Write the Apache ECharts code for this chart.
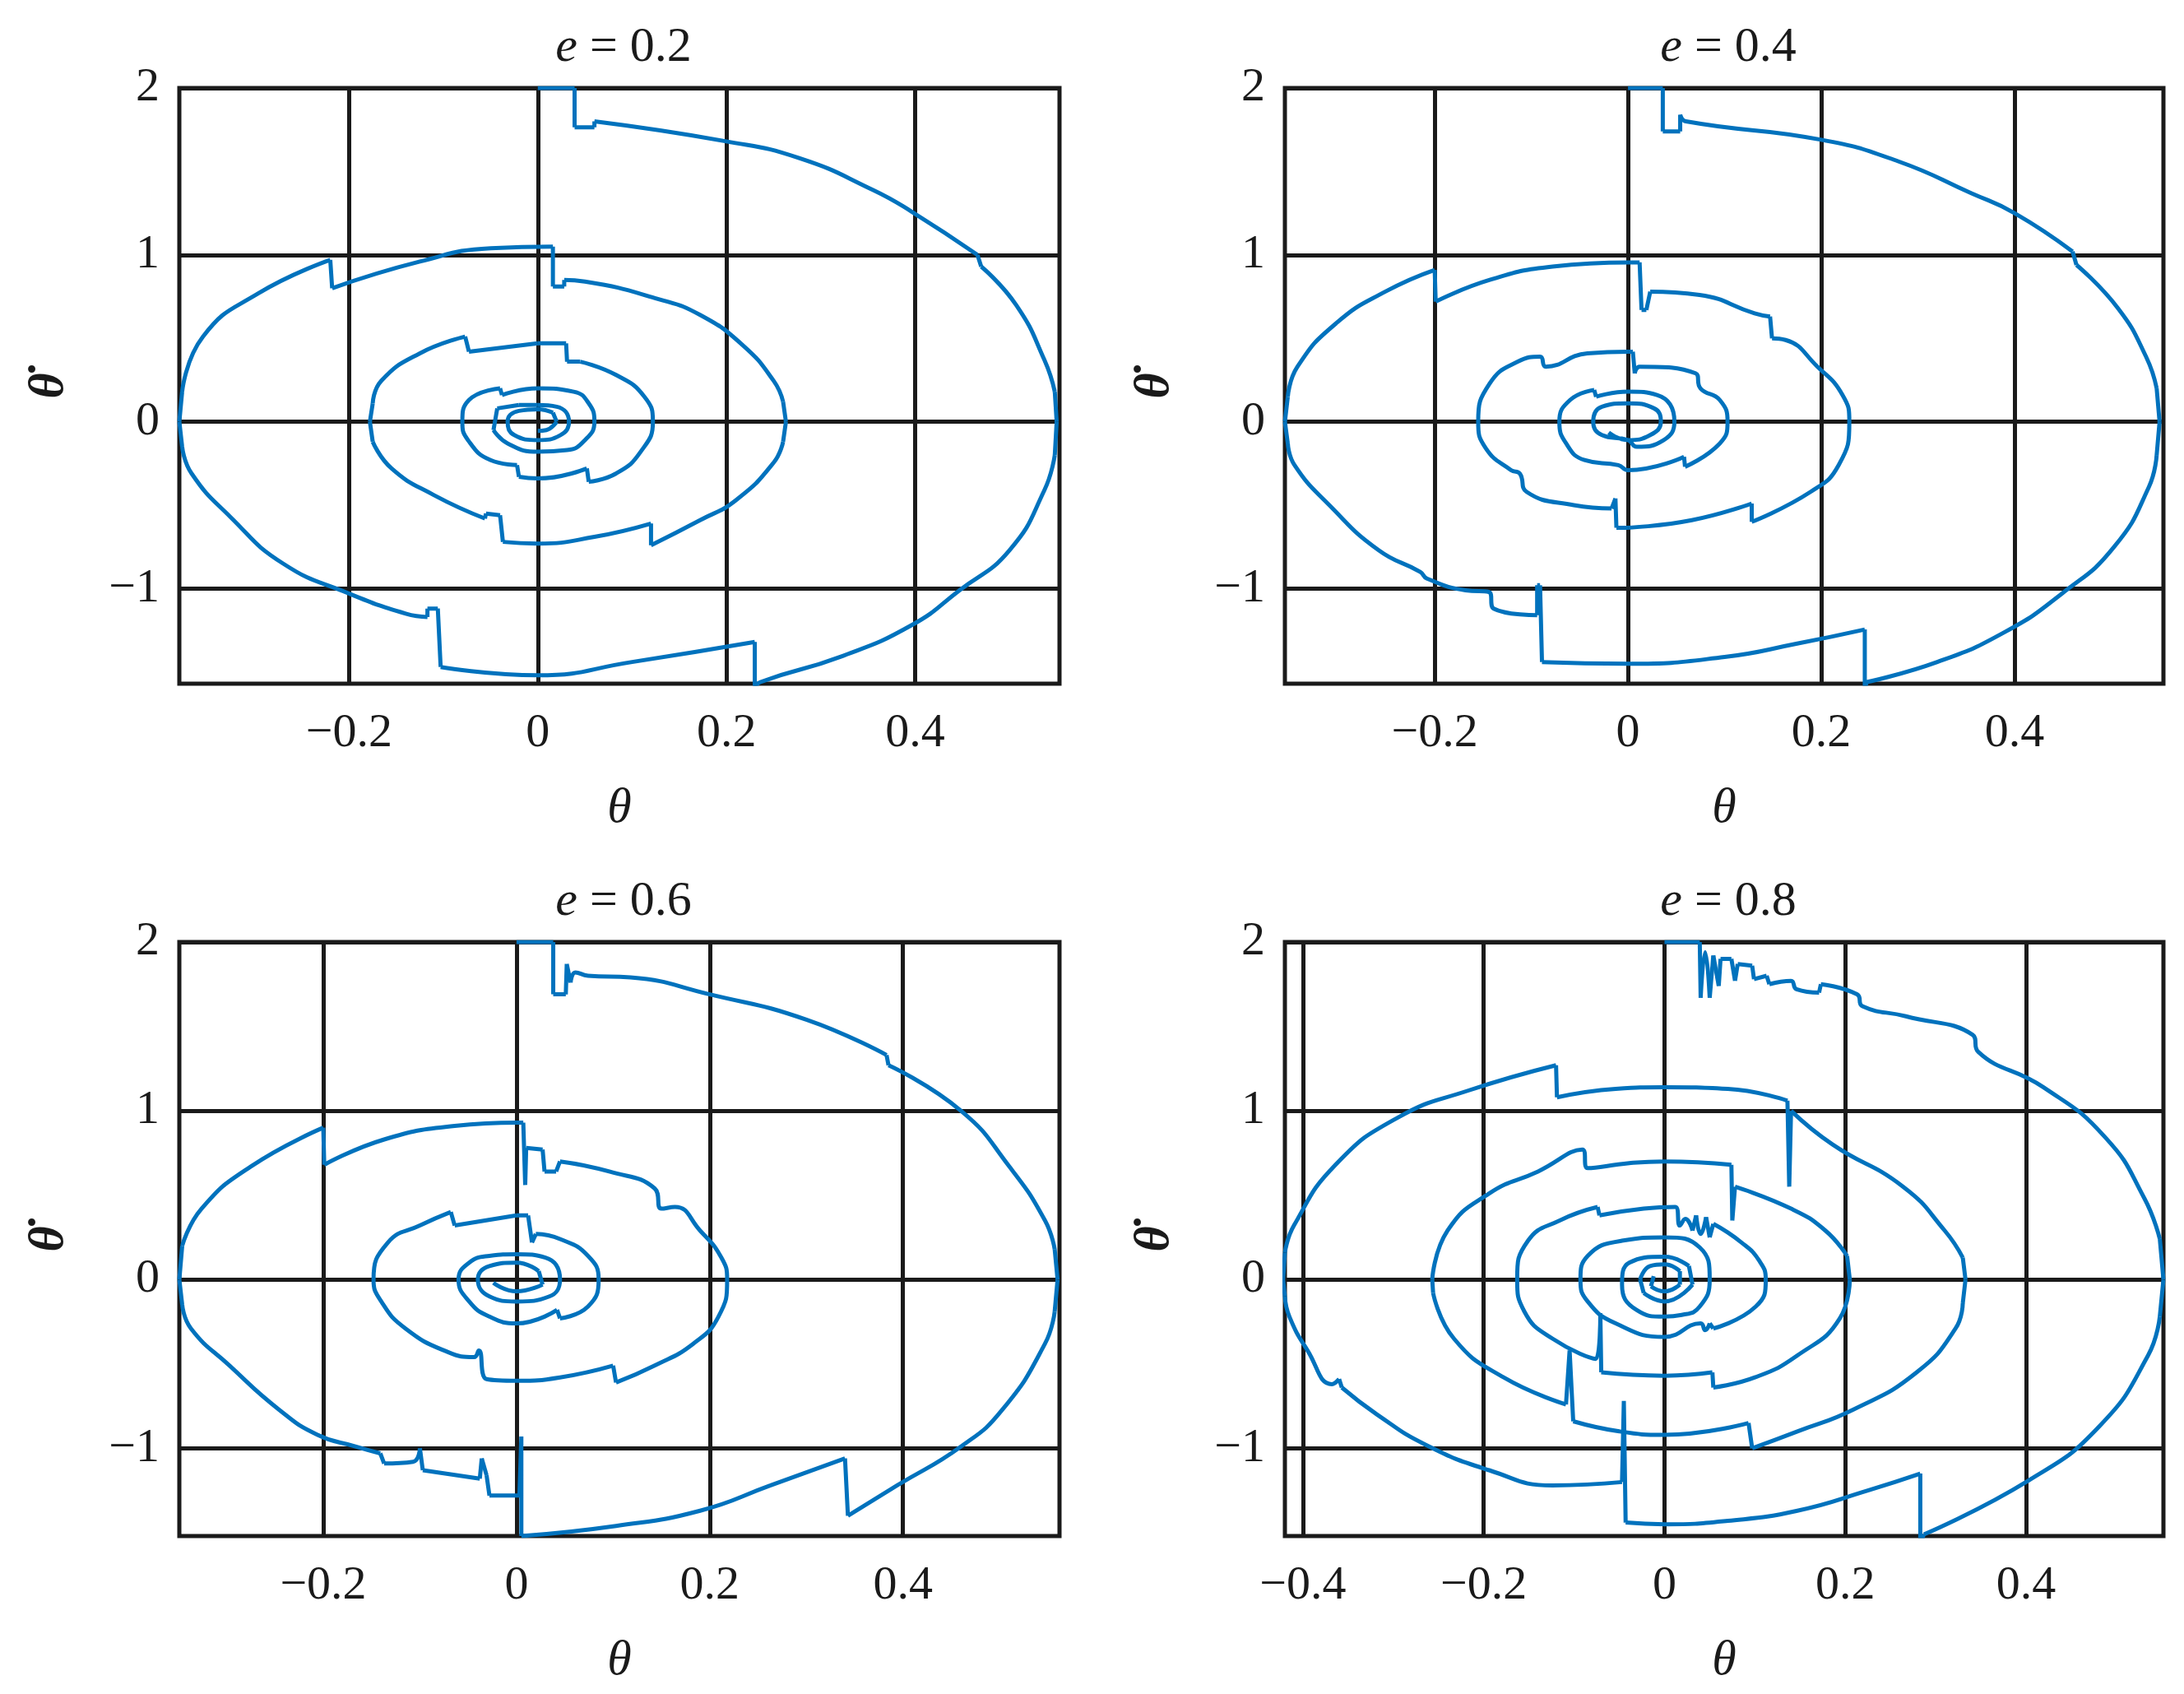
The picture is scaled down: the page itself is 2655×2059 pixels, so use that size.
<!DOCTYPE html>
<html><head><meta charset="utf-8">
<script src="https://cdn.jsdelivr.net/npm/echarts@6/dist/echarts.min.js"></script>
<style>html,body{margin:0;padding:0;background:#fff}#c{width:2655px;height:2059px}</style>
</head><body><div id="c"></div>
<script>
const titles = ['0.2','0.4','0.6','0.8'];
const xTicks = [[-0.2,0,0.2,0.4],[-0.2,0,0.2,0.4],[-0.2,0,0.2,0.4],[-0.4,-0.2,0,0.2,0.4]];
const yTicks = [-1,0,1,2];
const xRanges = [[-0.38,0.553],[-0.355,0.554],[-0.349,0.562],[-0.42,0.552]];
const yRanges = [[-1.57,2],[-1.57,2],[-1.52,2],[-1.52,2]];

const traj02 = [[0,2],[0.039,2],[0.039,1.765],[0.06,1.765],[0.06,1.80],[0.2,1.68],[0.277,1.58],[0.355,1.39],[0.396,1.26],[0.466,1.0],[0.47,0.93],[0.507,0.70],[0.537,0.37],[0.548,0.18],[0.55,0],[0.548,-0.2],[0.537,-0.41],[0.5,-0.77],[0.447,-1.01],[0.396,-1.22],[0.32,-1.41],[0.236,-1.56],[0.23,-1.6],[0.23,-1.32],[0.1,-1.44],[0,-1.52],[-0.103,-1.47],[-0.106,-1.12],[-0.117,-1.12],[-0.117,-1.17],[-0.14,-1.15],[-0.2,-1.03],[-0.27,-0.85],[-0.326,-0.57],[-0.367,-0.31],[-0.377,-0.15],[-0.38,0],[-0.377,0.18],[-0.355,0.51],[-0.296,0.77],[-0.22,0.97],[-0.218,0.80],[-0.125,0.96],[-0.05,1.04],[0.016,1.05],[0.016,0.81],[0.028,0.81],[0.028,0.85],[0.05,0.84],[0.128,0.735],[0.172,0.64],[0.217,0.46],[0.25,0.245],[0.26,0.12],[0.263,0],[0.26,-0.12],[0.25,-0.245],[0.21,-0.47],[0.172,-0.59],[0.12,-0.74],[0.12,-0.61],[0.06,-0.69],[0,-0.73],[-0.037,-0.72],[-0.04,-0.56],[-0.055,-0.55],[-0.056,-0.58],[-0.11,-0.44],[-0.155,-0.28],[-0.175,-0.12],[-0.178,0],[-0.175,0.11],[-0.166,0.245],[-0.125,0.41],[-0.077,0.51],[-0.073,0.42],[0,0.47],[0.03,0.47],[0.031,0.36],[0.045,0.36],[0.083,0.28],[0.113,0.15],[0.122,0],[0.109,-0.18],[0.083,-0.31],[0.054,-0.36],[0.052,-0.28],[0,-0.34],[-0.02,-0.33],[-0.022,-0.26],[-0.05,-0.23],[-0.074,-0.11],[-0.08,0],[-0.073,0.13],[-0.04,0.2],[-0.038,0.16],[0,0.2],[0.038,0.18],[0.054,0.11],[0.06,0],[0.05,-0.11],[0.031,-0.17],[0,-0.18],[-0.032,-0.13],[-0.047,-0.05],[-0.043,0.08],[-0.02,0.1],[0,0.1],[0.02,0.09],[0.033,0],[0.024,-0.08],[0,-0.11],[-0.025,-0.08],[-0.032,0],[-0.02,0.065],[0,0.075],[0.016,0.055],[0.02,0],[0.009,-0.05],[0,-0.055]];

const traj04 = [[0,2],[0.036,2],[0.036,1.74],[0.054,1.74],[0.054,1.84],[0.06,1.8],[0.2,1.69],[0.28,1.56],[0.355,1.37],[0.4,1.25],[0.46,1.02],[0.464,0.94],[0.507,0.68],[0.536,0.39],[0.547,0.2],[0.55,0],[0.547,-0.2],[0.539,-0.39],[0.503,-0.75],[0.449,-1.03],[0.39,-1.26],[0.32,-1.44],[0.247,-1.56],[0.245,-1.6],[0.245,-1.245],[0.175,-1.33],[0.1,-1.41],[0,-1.45],[-0.089,-1.44],[-0.091,-0.98],[-0.094,-0.98],[-0.094,-1.16],[-0.139,-1.12],[-0.144,-1.02],[-0.168,-1.01],[-0.208,-0.94],[-0.215,-0.9],[-0.258,-0.77],[-0.309,-0.5],[-0.345,-0.26],[-0.352,-0.13],[-0.355,0],[-0.352,0.15],[-0.342,0.33],[-0.302,0.59],[-0.251,0.78],[-0.2,0.91],[-0.199,0.72],[-0.143,0.85],[-0.078,0.93],[0,0.955],[0.012,0.955],[0.014,0.67],[0.019,0.67],[0.023,0.78],[0.074,0.76],[0.131,0.65],[0.147,0.63],[0.149,0.5],[0.163,0.49],[0.196,0.33],[0.222,0.16],[0.229,0],[0.218,-0.26],[0.189,-0.42],[0.128,-0.6],[0.128,-0.49],[0.066,-0.59],[0,-0.635],[-0.012,-0.635],[-0.013,-0.46],[-0.017,-0.52],[-0.056,-0.5],[-0.105,-0.42],[-0.112,-0.31],[-0.121,-0.29],[-0.147,-0.16],[-0.155,0],[-0.143,0.23],[-0.114,0.36],[-0.091,0.39],[-0.085,0.33],[-0.042,0.41],[0,0.42],[0.005,0.42],[0.007,0.29],[0.012,0.33],[0.07,0.29],[0.075,0.2],[0.095,0.13],[0.103,0],[0.095,-0.13],[0.059,-0.27],[0.058,-0.21],[0,-0.29],[-0.01,-0.26],[-0.045,-0.23],[-0.064,-0.13],[-0.071,0],[-0.06,0.13],[-0.035,0.19],[-0.033,0.15],[0,0.18],[0.03,0.16],[0.048,0],[0.037,-0.11],[0.009,-0.15],[0,-0.11],[-0.027,-0.08],[-0.036,0],[-0.027,0.09],[0,0.11],[0.027,0.08],[0.034,0],[0.023,-0.08],[0,-0.11],[-0.02,-0.065]];

const traj06 = [[0,2],[0.038,2],[0.038,1.69],[0.051,1.69],[0.052,1.87],[0.056,1.76],[0.061,1.82],[0.074,1.8],[0.118,1.79],[0.2,1.69],[0.3,1.54],[0.383,1.33],[0.385,1.27],[0.46,1.0],[0.51,0.67],[0.547,0.35],[0.557,0.18],[0.56,0],[0.557,-0.19],[0.547,-0.38],[0.503,-0.77],[0.46,-0.99],[0.394,-1.22],[0.343,-1.4],[0.34,-1.06],[0.263,-1.22],[0.19,-1.37],[0.103,-1.46],[0.005,-1.52],[0.005,-0.93],[0.003,-1.28],[-0.028,-1.28],[-0.031,-1.16],[-0.036,-1.06],[-0.038,-1.18],[-0.097,-1.13],[-0.1,-1.0],[-0.107,-1.08],[-0.137,-1.09],[-0.141,-1.03],[-0.166,-0.99],[-0.206,-0.92],[-0.246,-0.77],[-0.297,-0.51],[-0.337,-0.29],[-0.346,-0.15],[-0.349,0],[-0.346,0.2],[-0.326,0.42],[-0.275,0.67],[-0.2,0.9],[-0.199,0.68],[-0.137,0.83],[-0.064,0.91],[0,0.93],[0.007,0.93],[0.009,0.56],[0.01,0.78],[0.027,0.77],[0.029,0.64],[0.041,0.64],[0.045,0.7],[0.096,0.64],[0.143,0.54],[0.15,0.42],[0.164,0.43],[0.19,0.29],[0.212,0.13],[0.218,0],[0.209,-0.22],[0.183,-0.38],[0.143,-0.51],[0.103,-0.61],[0.1,-0.51],[0.045,-0.58],[0,-0.6],[-0.031,-0.59],[-0.039,-0.42],[-0.044,-0.46],[-0.071,-0.43],[-0.115,-0.29],[-0.14,-0.13],[-0.148,0],[-0.133,0.22],[-0.1,0.32],[-0.068,0.4],[-0.064,0.32],[0,0.38],[0.012,0.38],[0.016,0.22],[0.02,0.27],[0.045,0.24],[0.074,0.14],[0.085,0],[0.074,-0.16],[0.045,-0.23],[0.042,-0.18],[0,-0.26],[-0.028,-0.22],[-0.049,-0.13],[-0.06,0],[-0.049,0.1],[-0.028,0.14],[0,0.15],[0.03,0.13],[0.045,0],[0.034,-0.1],[0,-0.13],[-0.028,-0.1],[-0.04,0],[-0.028,0.08],[0,0.1],[0.023,0.05],[0.027,-0.03],[0,-0.07],[-0.024,-0.02]];

const traj08 = [[0,2],[0.039,2],[0.04,1.67],[0.045,1.94],[0.05,1.67],[0.054,1.92],[0.06,1.74],[0.062,1.9],[0.074,1.9],[0.078,1.77],[0.081,1.87],[0.097,1.86],[0.099,1.78],[0.113,1.8],[0.116,1.75],[0.14,1.77],[0.146,1.72],[0.171,1.7],[0.173,1.75],[0.213,1.69],[0.219,1.62],[0.267,1.56],[0.341,1.45],[0.347,1.35],[0.419,1.14],[0.488,0.84],[0.531,0.48],[0.548,0.24],[0.552,0],[0.548,-0.22],[0.535,-0.45],[0.481,-0.87],[0.403,-1.19],[0.287,-1.51],[0.283,-1.56],[0.283,-1.15],[0.225,-1.25],[0.147,-1.37],[0.07,-1.43],[0,-1.45],[-0.043,-1.44],[-0.045,-0.72],[-0.047,-1.2],[-0.124,-1.22],[-0.194,-1.13],[-0.264,-0.98],[-0.318,-0.8],[-0.357,-0.64],[-0.36,-0.59],[-0.368,-0.62],[-0.395,-0.42],[-0.415,-0.22],[-0.42,-0.1],[-0.422,0],[-0.42,0.16],[-0.41,0.32],[-0.364,0.68],[-0.295,0.96],[-0.217,1.12],[-0.12,1.27],[-0.119,1.08],[-0.054,1.13],[0,1.14],[0.07,1.13],[0.136,1.06],[0.138,0.55],[0.14,1.0],[0.186,0.8],[0.264,0.55],[0.31,0.29],[0.33,0.13],[0.333,0],[0.33,-0.14],[0.322,-0.29],[0.279,-0.55],[0.209,-0.77],[0.147,-0.9],[0.097,-1.0],[0.093,-0.85],[0,-0.92],[-0.05,-0.9],[-0.101,-0.84],[-0.105,-0.42],[-0.109,-0.74],[-0.178,-0.58],[-0.233,-0.35],[-0.256,-0.08],[-0.257,0],[-0.24,0.29],[-0.194,0.51],[-0.14,0.64],[-0.091,0.77],[-0.085,0.66],[-0.039,0.69],[0,0.7],[0.074,0.68],[0.075,0.35],[0.078,0.55],[0.14,0.42],[0.178,0.29],[0.202,0.14],[0.205,0],[0.194,-0.23],[0.147,-0.45],[0.1,-0.58],[0.054,-0.64],[0.053,-0.55],[0,-0.57],[-0.07,-0.55],[-0.071,-0.2],[-0.076,-0.47],[-0.124,-0.35],[-0.155,-0.19],[-0.163,0],[-0.151,0.23],[-0.116,0.35],[-0.074,0.43],[-0.072,0.38],[-0.023,0.42],[0.012,0.43],[0.017,0.32],[0.023,0.36],[0.031,0.29],[0.035,0.38],[0.04,0.27],[0.046,0.37],[0.05,0.25],[0.054,0.33],[0.085,0.22],[0.105,0.11],[0.112,0],[0.101,-0.16],[0.054,-0.29],[0.05,-0.26],[0.045,-0.3],[0.04,-0.26],[0,-0.34],[-0.054,-0.26],[-0.085,-0.13],[-0.093,0],[-0.085,0.14],[-0.047,0.23],[0,0.25],[0.039,0.19],[0.05,0],[0.039,-0.16],[0.019,-0.21],[0,-0.22],[-0.031,-0.18],[-0.047,-0.03],[-0.039,0.1],[0,0.135],[0.027,0.08],[0.031,-0.03],[0,-0.13],[-0.023,-0.08],[-0.027,0],[-0.016,0.08],[0,0.09],[0.017,0.05],[0.017,-0.03],[0,-0.07],[-0.015,-0.04],[-0.012,0.02]];

const trajs = [traj02, traj04, traj06, traj08];
const lefts = [218, 1562, 218, 1562];
const tops = [107, 107, 1145, 1145];
const widths = [1070, 1068, 1070, 1068];
const heights = [724, 724, 722, 722];
const FONT = 'Liberation Serif';
const fmt = v => (v < 0 ? '\u2212' : '') + String(Math.abs(Math.round(v*10)/10));
const BLUE = '#0072BD';

function splitRuns(pts) {
  const arcs = [], jumps = [];
  let cur = [pts[0]];
  for (let k = 1; k < pts.length; k++) {
    const a = pts[k-1], b = pts[k];
    const isJump = Math.abs(b[0]-a[0]) < 0.0045 || (Math.abs(b[1]-a[1]) < 0.0001 && Math.abs(b[0]-a[0]) < 0.05);
    if (isJump) {
      if (cur.length > 1) arcs.push(cur);
      jumps.push(a, b, '-');
      cur = [b];
    } else cur.push(b);
  }
  if (cur.length > 1) arcs.push(cur);
  return {arcs, jumps};
}

const grid = [], xAxis = [], yAxis = [], series = [], title = [];
for (let i = 0; i < 4; i++) {
  grid.push({left: lefts[i], top: tops[i], width: widths[i], height: heights[i], show: true, borderColor: '#1a1a1a', borderWidth: 5, backgroundColor: 'transparent'});
  const line = {show: false};
  xAxis.push({type: 'value', gridIndex: i, min: xRanges[i][0], max: xRanges[i][1],
    axisLine: line,
    axisTick: {show: false, customValues: xTicks[i]},
    axisLabel: {customValues: xTicks[i], formatter: fmt, fontFamily: FONT, fontSize: 58, color: '#1a1a1a', margin: 32},
    splitLine: {show: true, lineStyle: {color: '#1a1a1a', width: 5}},
    name: 'θ', nameLocation: 'middle', nameGap: 122,
    nameTextStyle: {fontFamily: FONT, fontStyle: 'italic', fontSize: 60, color: '#1a1a1a'}});
  yAxis.push({type: 'value', gridIndex: i, min: yRanges[i][0], max: yRanges[i][1],
    axisLine: line,
    axisTick: {show: false, customValues: yTicks},
    axisLabel: {customValues: yTicks, formatter: fmt, fontFamily: FONT, fontSize: 58, color: '#1a1a1a', margin: 24},
    splitLine: {show: true, lineStyle: {color: '#1a1a1a', width: 5}},
    name: 'θ\u0307', nameLocation: 'middle', nameGap: 128, nameRotate: 90,
    nameTextStyle: {fontFamily: FONT, fontStyle: 'italic', fontWeight: 'bold', fontSize: 60, color: '#1a1a1a'}});
  const {arcs, jumps} = splitRuns(trajs[i]);
  arcs.forEach(arc => series.push({type: 'line', xAxisIndex: i, yAxisIndex: i, data: arc, showSymbol: false, clip: true,
    smooth: 0.5, lineStyle: {color: BLUE, width: 5}, animation: false, z: 3}));
  series.push({type: 'line', xAxisIndex: i, yAxisIndex: i, data: jumps, showSymbol: false, clip: true,
    connectNulls: false, lineStyle: {color: BLUE, width: 5}, animation: false, z: 3});
  title.push({text: '{i|e} = ' + titles[i], left: lefts[i] + widths[i]/2, top: tops[i] - 84, textAlign: 'center',
    textStyle: {fontFamily: FONT, fontSize: 60, fontWeight: 'normal', color: '#1a1a1a',
      rich: {i: {fontFamily: FONT, fontStyle: 'italic', fontSize: 60, color: '#1a1a1a'}}}});
}
const chart = echarts.init(document.getElementById('c'));
chart.setOption({animation: false, backgroundColor: '#fff', title, grid, xAxis, yAxis, series});
</script></body></html>
